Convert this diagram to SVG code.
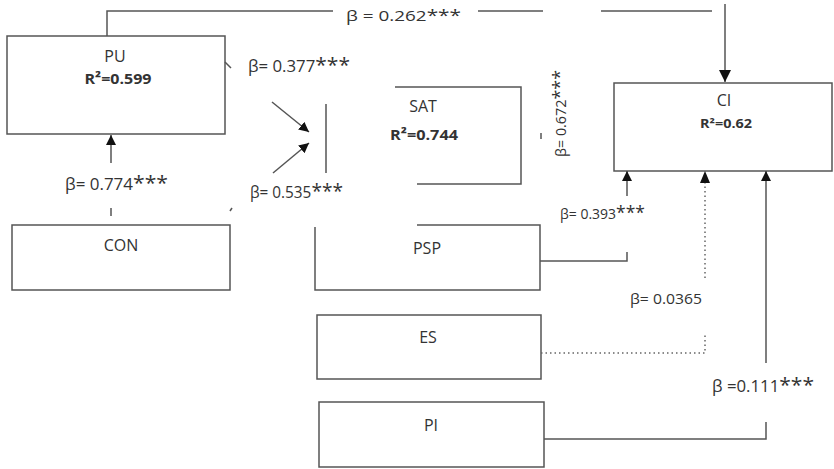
<svg xmlns="http://www.w3.org/2000/svg" width="834" height="469" viewBox="0 0 834 469">
<defs>
<style>
.box{fill:none;stroke:#555;stroke-width:1.5}
.ln{fill:none;stroke:#555;stroke-width:1.5}
.dot{fill:none;stroke:#666;stroke-width:1.5;stroke-dasharray:1.5 3}
.t{font-family:"Open Sans","Liberation Sans",sans-serif;fill:#333;text-anchor:middle}
.lbl{font-size:16px}
.r2{font-size:15px;font-weight:bold}
.b{font-family:"Open Sans","Liberation Sans",sans-serif;fill:#333;font-size:16px}
.bs{font-family:"Open Sans","Liberation Sans",sans-serif;fill:#333;font-size:14px}
.st{font-size:1.25em}
</style>
<marker id="ah" viewBox="0 0 10 10" refX="10" refY="5" markerWidth="10" markerHeight="10" markerUnits="userSpaceOnUse" orient="auto">
<path d="M0,0 L10,5 L0,10 Z" fill="#111"/>
</marker>
<marker id="ahL" viewBox="0 0 12 12" refX="12" refY="6" markerWidth="12" markerHeight="12" markerUnits="userSpaceOnUse" orient="auto">
<path d="M0,0 L12,6 L0,12 Z" fill="#111"/>
</marker>
</defs>
<rect width="834" height="469" fill="#fff"/>

<g id="PU">
<rect class="box" x="7" y="36" width="218" height="98"/>
<text class="t lbl" x="115" y="62">PU</text>
<text class="t r2" x="118" y="84" textLength="67" lengthAdjust="spacingAndGlyphs">R²=0.599</text>
</g>

<g id="SAT">
<path class="ln" d="M326,104 V173"/>
<path class="ln" d="M395,87 H521 V184 H417"/>
<text class="t lbl" x="423" y="112">SAT</text>
<text class="t r2" x="424" y="140" textLength="68" lengthAdjust="spacingAndGlyphs">R²=0.744</text>
</g>

<g id="CI">
<rect class="box" x="614" y="83" width="218" height="88"/>
<text class="t lbl" x="724" y="106">CI</text>
<text class="t" style="font-size:12px;font-weight:bold" x="726" y="128" textLength="52" lengthAdjust="spacingAndGlyphs">R²=0.62</text>
</g>

<g id="CON">
<rect class="box" x="12" y="225" width="218" height="65"/>
<text class="t lbl" x="121" y="251">CON</text>
</g>

<g id="PSP">
<path class="ln" d="M315,227 V290 H540 V225 H417"/>
<text class="t lbl" x="427" y="254">PSP</text>
</g>

<g id="ES">
<rect class="box" x="317" y="315" width="224" height="64"/>
<text class="t lbl" x="428" y="343">ES</text>
</g>

<g id="PI">
<rect class="box" x="319" y="402" width="225" height="65"/>
<text class="t lbl" x="431" y="431">PI</text>
</g>

<g id="connectors">
<!-- PU -> CI -->
<path class="ln" d="M107,36 V11 H333"/>
<path class="ln" d="M478,11 H543"/>
<path class="ln" d="M601,11 H712"/>
<path class="ln" d="M725,4 V82" marker-end="url(#ahL)"/>
<text class="b" x="346" y="21" style="font-size:15px" textLength="115" lengthAdjust="spacingAndGlyphs">β = 0.262<tspan style="font-size:1.1em">***</tspan></text>
<!-- PU -> SAT -->
<path class="ln" d="M225,62 L231,68"/>
<path class="ln" d="M272,102 L309,132" marker-end="url(#ah)"/>
<text class="b" x="248" y="72" textLength="102" lengthAdjust="spacingAndGlyphs">β= 0.377<tspan class="st">***</tspan></text>
<!-- CON -> SAT -->
<path class="ln" d="M230,211 L232,208"/>
<path class="ln" d="M273,173 L309,143" marker-end="url(#ah)"/>
<text class="b" x="250" y="198" textLength="93" lengthAdjust="spacingAndGlyphs">β= 0.535<tspan class="st">***</tspan></text>
<!-- CON -> PU -->
<path class="ln" d="M111,208 V216"/>
<path class="ln" d="M111,163 V135" marker-end="url(#ah)"/>
<text class="b" x="65" y="190" textLength="103" lengthAdjust="spacingAndGlyphs">β= 0.774<tspan class="st">***</tspan></text>
<!-- SAT -> CI -->
<path class="ln" d="M541,133 V139"/>
<text class="bs" transform="translate(566,157) rotate(-90)" textLength="87" lengthAdjust="spacingAndGlyphs">β= 0.672<tspan class="st">***</tspan></text>
<!-- PSP -> CI -->
<path class="ln" d="M540,261 H627 V252"/>
<path class="ln" d="M627,196 V171" marker-end="url(#ah)"/>
<text class="bs" x="560" y="219" textLength="85" lengthAdjust="spacingAndGlyphs">β= 0.393<tspan class="st">***</tspan></text>
<!-- ES -> CI -->
<path class="dot" d="M541,353 H705 V333"/>
<path class="dot" d="M705,278 V183"/>
<path d="M700,183 L705,171 L710,183 Z" fill="#111"/>
<text class="bs" x="630" y="304" textLength="72" lengthAdjust="spacingAndGlyphs">β= 0.0365</text>
<!-- PI -> CI -->
<path class="ln" d="M544,439 H766 V422"/>
<path class="ln" d="M766,363 V171" marker-end="url(#ah)"/>
<text class="b" x="712" y="392" textLength="102" lengthAdjust="spacingAndGlyphs">β =0.111<tspan class="st">***</tspan></text>
</g>
</svg>
